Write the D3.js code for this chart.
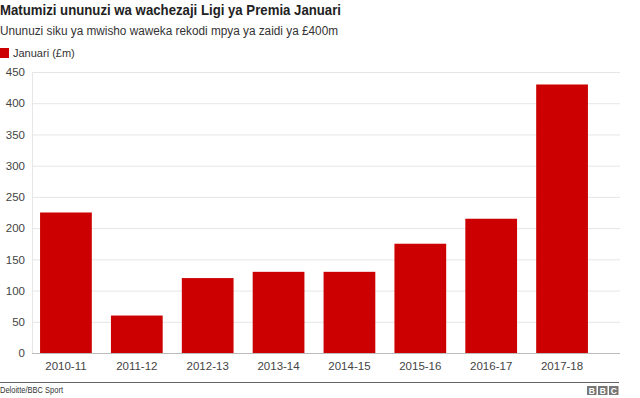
<!DOCTYPE html>
<html><head><meta charset="utf-8">
<script src="https://cdn.jsdelivr.net/npm/d3@7"></script>
<style>
body{margin:0;background:#fff;}
svg{display:block;font-family:"Liberation Sans",Arial,Helvetica,sans-serif;}
</style></head>
<body>
<svg id="chart" width="640" height="398"></svg>
<script>
const categories = ["2010-11","2011-12","2012-13","2013-14","2014-15","2015-16","2016-17","2017-18"];
const values = [225, 60, 120, 130, 130, 175, 215, 430];
const yTicks = [0,50,100,150,200,250,300,350,400,450];
const seriesName = "Januari (£m)";
const title = "Matumizi ununuzi wa wachezaji Ligi ya Premia Januari";
const subtitle = "Ununuzi siku ya mwisho waweka rekodi mpya ya zaidi ya £400m";
const source = "Deloitte/BBC Sport";

const svg = d3.select("#chart");
const red = "#cc0000";

svg.append("text").attr("x",0).attr("y",15).attr("font-size",13.8).attr("font-weight","bold").attr("fill","#222")
  .attr("textLength",341).attr("lengthAdjust","spacingAndGlyphs").text(title);
svg.append("text").attr("x",0).attr("y",35).attr("font-size",12).attr("fill","#333")
  .attr("textLength",338).attr("lengthAdjust","spacingAndGlyphs").text(subtitle);

svg.append("rect").attr("x",0).attr("y",48).attr("width",9).attr("height",10).attr("fill",red);
svg.append("text").attr("x",13).attr("y",57).attr("font-size",11).attr("fill","#333").text(seriesName);

const y = d3.scaleLinear().domain([0,450]).range([353,72]);
const x = d3.scaleBand().domain(categories).range([30.5,597.5]).paddingInner(0.27).paddingOuter(0.135);

const yAxis = d3.axisLeft(y).tickValues(yTicks).tickSize(-588).tickPadding(7);
const gY = svg.append("g").attr("transform","translate(32,0)").call(yAxis);
gY.select(".domain").attr("stroke","#e6e6e6");
gY.selectAll(".tick line").attr("stroke","#e6e6e6");
gY.selectAll(".tick text").attr("font-size",11.5).attr("fill","#444").attr("font-family","Liberation Sans, Arial, sans-serif");
gY.selectAll(".tick").filter(d=>d===0).select("line").attr("stroke","#bbb");

svg.selectAll("rect.bar").data(values).join("rect").attr("class","bar")
  .attr("x",(d,i)=>x(categories[i])).attr("width",x.bandwidth())
  .attr("y",d=>y(d)).attr("height",d=>y(0)-y(d)).attr("fill",red);

const xAxis = d3.axisBottom(x).tickSize(0).tickPadding(9);
const gX = svg.append("g").attr("transform","translate(0,353)").call(xAxis);
gX.select(".domain").remove();
gX.selectAll(".tick text").attr("font-size",11.5).attr("fill","#444").attr("font-family","Liberation Sans, Arial, sans-serif");

svg.append("line").attr("x1",0).attr("x2",619).attr("y1",382.5).attr("y2",382.5).attr("stroke","#666").attr("stroke-width",1);
svg.append("text").attr("x",0).attr("y",393).attr("font-size",9).attr("fill","#333")
  .attr("textLength",63).attr("lengthAdjust","spacingAndGlyphs").text(source);
const bbc = ["B","B","C"];
bbc.forEach((l,i)=>{
  const bx = 587 + i*11;
  svg.append("rect").attr("x",bx).attr("y",386).attr("width",9.5).attr("height",9).attr("fill","#777");
  svg.append("text").attr("x",bx+4.75).attr("y",394).attr("text-anchor","middle").attr("font-size",8.5).attr("font-weight","bold").attr("fill","#fff").text(l);
});
</script>
</body></html>
